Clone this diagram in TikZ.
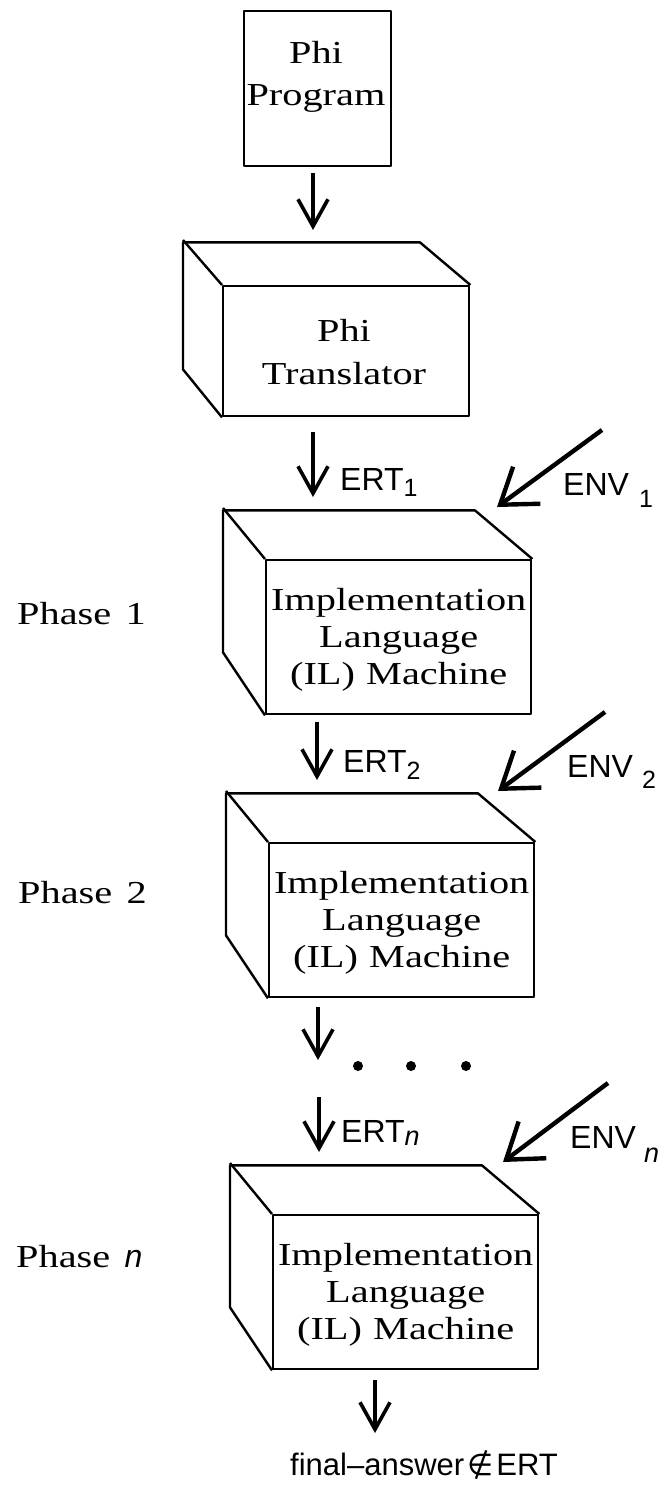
\documentclass[tikz,border=0pt]{standalone}
\usepackage{fontspec}
\setmainfont{Liberation Serif}
\newfontfamily\serifw[FakeStretch=1.26]{Liberation Serif}
\newfontfamily\sansw{Liberation Sans}
\newfontfamily\symf{DejaVu Sans}
\usetikzlibrary{arrows.meta}

\newcommand\ilcube[3]{%
  \node[facebox, minimum width=265pt, minimum height=154pt] (#1) at (#2,#3) {};
  \draw[boxline] (#1.south west) -- ++(-42,-63) -- ++(0,-142) -- ++(252,0) -- (#1.north east);
  \draw[boxline] (#1.north west) -- ++(-42,-51);
  \node[serif] (#1txt) at ([yshift=-3pt]#1.center) {Implementation\\Language\\(IL)\hspace{0.35em}Machine};
}

\begin{document}
\begin{tikzpicture}[x=1pt,y=-1pt,
  boxline/.style={line width=2.4pt, line join=round},
  facebox/.style={draw, boxline, anchor=north west, inner sep=0pt},
  flow/.style={line width=3.6pt, -{Straight Barb[length=27pt,width=30pt]}},
  envflow/.style={line width=4.4pt, -{Straight Barb[length=33pt,width=46pt]}},
  serif/.style={font=\fontsize{32}{37}\selectfont\serifw, align=center, inner sep=0pt},
  serifl/.style={font=\fontsize{32}{37}\selectfont\serifw, inner sep=0pt, anchor=base west},
  sanslbl/.style={font=\fontsize{32}{36}\selectfont\sansw, inner sep=0pt, anchor=base west},
]
\useasboundingbox (0,0) rectangle (666,1491);

% Phi Program
\node[facebox, minimum width=147pt, minimum height=155pt] (prog) at (243,10) {};
\node[serif, font=\fontsize{32}{42}\selectfont\serifw] (progtxt) at (316,77) {Phi\\Program};

\coordinate (a1s) at (313,173);
\coordinate (a1e) at (313,230);
\draw[flow] (a1s) -- (a1e);

% Phi Translator
\node[facebox, minimum width=246pt, minimum height=130pt] (trans) at (222,285) {};
\draw[boxline] (trans.south west) -- ++(-39,-48) -- ++(0,-127) -- ++(237,0) -- (trans.north east);
\draw[boxline] (trans.north west) -- ++(-39,-45);
\node[serif, font=\fontsize{32}{43}\selectfont\serifw] (transtxt) at (344,352) {Phi\\Translator};

% ERT1 / ENV1
\coordinate (a2s) at (313,432);
\coordinate (a2e) at (313,497);
\draw[flow] (a2s) -- (a2e);
\node[sanslbl] (ert1) at (340,490) {ERT\raisebox{-6pt}{\fontsize{25}{25}\selectfont 1}};
\coordinate (e1s) at (602,430);
\coordinate (e1e) at (497,507);
\draw[envflow] (e1s) -- (e1e);
\node[sanslbl] (env1) at (563,495) {ENV\hspace{10pt}\raisebox{-12pt}{\fontsize{25}{25}\selectfont 1}};

% Phase 1
\ilcube{m1}{265}{559}
\node[serifl] (ph1) at (17,624) {Phase\hspace{0.45em}1};

% ERT2 / ENV2
\coordinate (a3s) at (317,722);
\coordinate (a3e) at (317,780);
\draw[flow] (a3s) -- (a3e);
\node[sanslbl] (ert2) at (343,772) {ERT\raisebox{-7pt}{\fontsize{25}{25}\selectfont 2}};
\coordinate (e2s) at (605,712);
\coordinate (e2e) at (498,791);
\draw[envflow] (e2s) -- (e2e);
\node[sanslbl] (env2) at (567,777) {ENV\hspace{9pt}\raisebox{-11pt}{\fontsize{25}{25}\selectfont 2}};

% Phase 2
\ilcube{m2}{268}{842}
\node[serifl] (ph2) at (18,903) {Phase\hspace{0.45em}2};

% continuation
\coordinate (a4s) at (318,1007);
\coordinate (a4e) at (318,1060);
\draw[flow] (a4s) -- (a4e);
\node[circle, fill, inner sep=0pt, minimum size=10pt] (d1) at (358,1066) {};
\node[circle, fill, inner sep=0pt, minimum size=10pt] (d2) at (411,1066) {};
\node[circle, fill, inner sep=0pt, minimum size=10pt] (d3) at (466,1066) {};

% ERTn / ENVn
\coordinate (a5s) at (319,1097);
\coordinate (a5e) at (319,1152);
\draw[flow] (a5s) -- (a5e);
\node[sanslbl] (ertn) at (341,1142) {ERT\raisebox{-3pt}{\fontsize{27}{27}\selectfont\itshape n}};
\coordinate (e3s) at (608,1083);
\coordinate (e3e) at (503,1162);
\draw[envflow] (e3s) -- (e3e);
\node[sanslbl] (envn) at (570,1148) {ENV\hspace{8pt}\raisebox{-14pt}{\fontsize{27}{27}\selectfont\itshape n}};

% Phase n
\ilcube{mn}{272}{1214}
\node[serifl] (phn) at (16,1267) {Phase\hspace{0.45em}{\sansw\itshape n}};

% final
\coordinate (a6s) at (375,1380);
\coordinate (a6e) at (375,1433);
\draw[flow] (a6s) -- (a6e);
\node[sanslbl, font=\fontsize{31}{36}\selectfont\sansw] (final) at (290,1475) {final–answer\hspace{3pt}{\symf\fontsize{30}{34}\selectfont ∉}\hspace{3pt}ERT};
\end{tikzpicture}
\end{document}
